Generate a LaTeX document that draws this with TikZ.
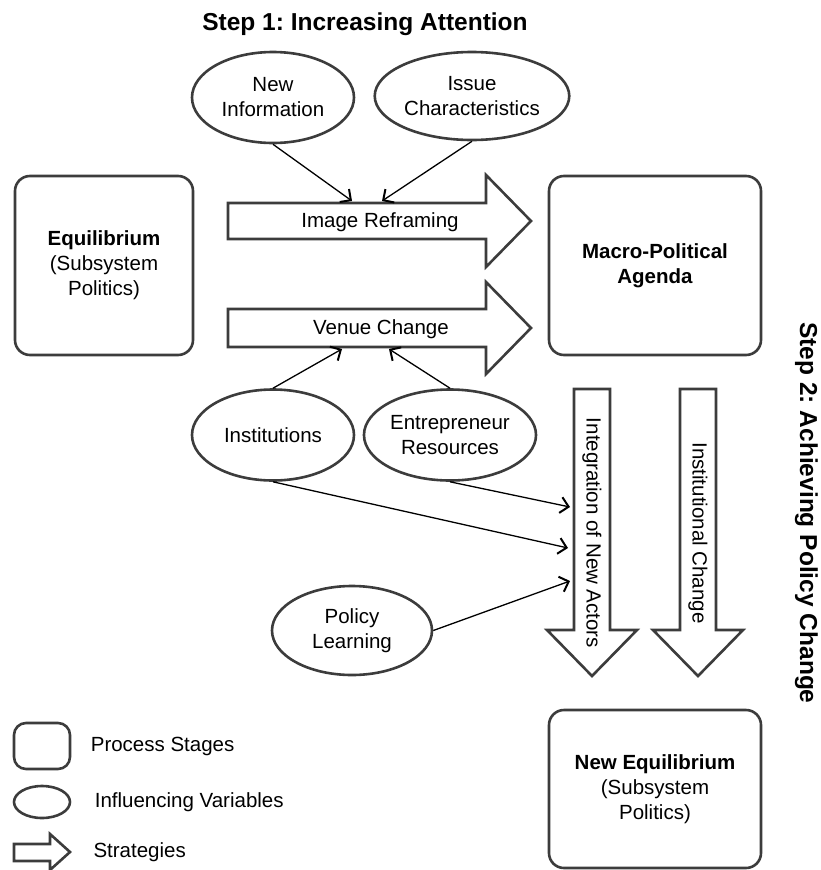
\documentclass[tikz,border=0pt]{standalone}
\usepackage{fontspec}
\setmainfont{Liberation Sans}
\usetikzlibrary{arrows.meta,positioning,shapes.geometric}
\definecolor{shapegray}{HTML}{3C3C3C}
\frenchspacing
\newcommand{\bodyfont}{\fontsize{20.5}{25}\selectfont}
\newcommand{\headfont}{\fontsize{24.5}{29}\selectfont\bfseries}

\tikzset{
  stage/.style={draw=shapegray, line width=2.6pt, rounded corners=15pt, align=center, inner sep=2pt},
  factor/.style={ellipse, draw=shapegray, line width=2.6pt, align=center, inner sep=1pt,
                 minimum width=162pt, minimum height=91pt},
  strategy/.style={draw=shapegray, line width=2.6pt, fill=white, line join=miter},
  influence/.style={line width=1.3pt, -{Straight Barb[length=8pt,width=16pt,line width=2pt]}},
}

\begin{document}
\begin{tikzpicture}[x=1pt, y=-1pt, font=\bodyfont]
  \useasboundingbox (0,0) rectangle (821,870);

  % headings
  \node[font=\headfont] (step1) at (365,24) {Step 1: Increasing Attention};
  \node[font=\headfont, rotate=-90, anchor=base, inner sep=0pt] (step2) at (800,513) {Step 2: Achieving Policy Change};

  % process stages
  \node[stage, minimum width=178pt, minimum height=179pt] (equil) at (104,265.5)
    {\textbf{Equilibrium}\\(Subsystem\\Politics)};
  \node[stage, minimum width=212pt, minimum height=179pt] (agenda) at (655,265.5)
    {\textbf{Macro-Political}\\\textbf{Agenda}};
  \node[stage, minimum width=212pt, minimum height=158pt] (newequil) at (655,789)
    {\textbf{New Equilibrium}\\(Subsystem\\Politics)};

  % strategies
  \draw[strategy] (228,203) -- (486,203) -- (486,175) -- (531,221) -- (486,267) -- (486,239) -- (228,239) -- cycle;
  \draw[strategy] (228,309) -- (486,309) -- (486,282) -- (531,328) -- (486,374) -- (486,347) -- (228,347) -- cycle;
  \draw[strategy] (574,389) -- (610,389) -- (610,630) -- (637,630) -- (592,676) -- (547,630) -- (574,630) -- cycle;
  \draw[strategy] (680,389) -- (716,389) -- (716,630) -- (743,630) -- (698,676) -- (653,630) -- (680,630) -- cycle;
  \node (reframe) at (380,222) {Image Reframing};
  \node (venue) at (381,329) {Venue Change};
  \node[rotate=-90] (newactors) at (592,533) {Integration of New Actors};
  \node[rotate=-90] (instchange) at (698,533) {Institutional Change};

  % influencing variables
  \node[factor] (newinfo) at (273,97.5) {New\\Information};
  \node[factor, minimum width=188pt, minimum height=88pt] (issue) at (472,96) {Issue\\Characteristics};
  \node[factor] (institutions) at (273,435) {Institutions};
  \node[factor] (entrepreneur) at (450,435) {Entrepreneur\\Resources};
  \node[factor, minimum width=160pt, minimum height=89pt] (learning) at (352,630.5) {Policy\\Learning};

  % arrow ends on the strategies
  \coordinate (reframe-l) at (352,201);
  \coordinate (reframe-r) at (382,201);
  \coordinate (venue-l) at (342,349);
  \coordinate (venue-r) at (389,349);
  \coordinate (actors-a) at (570,507);
  \coordinate (actors-b) at (568,548);
  \coordinate (actors-c) at (570,581);

  \draw[influence] (newinfo.south) -- (reframe-l);
  \draw[influence] (issue.south) -- (reframe-r);
  \draw[influence] (institutions.north) -- (venue-l);
  \draw[influence] (entrepreneur.north) -- (venue-r);
  \draw[influence] (entrepreneur.south) -- (actors-a);
  \draw[influence] (institutions.south) -- (actors-b);
  \draw[influence] (learning.east) -- (actors-c);

  % legend
  \node[stage, rounded corners=12pt, minimum width=56pt, minimum height=46pt] (lgstage) at (42,746) {};
  \node[factor, minimum width=56pt, minimum height=32pt] (lgfactor) at (42,802) {};
  \draw[strategy] (14,844) -- (50,844) -- (50,834) -- (70,852) -- (50,870) -- (50,861) -- (14,861) -- cycle;
  \coordinate (lgstrategy) at (70,852);
  \node[right=16pt of lgstage] {Process Stages};
  \node[right=20pt of lgfactor] {Influencing Variables};
  \node[right=20pt of lgstrategy] {Strategies};
\end{tikzpicture}
\end{document}
